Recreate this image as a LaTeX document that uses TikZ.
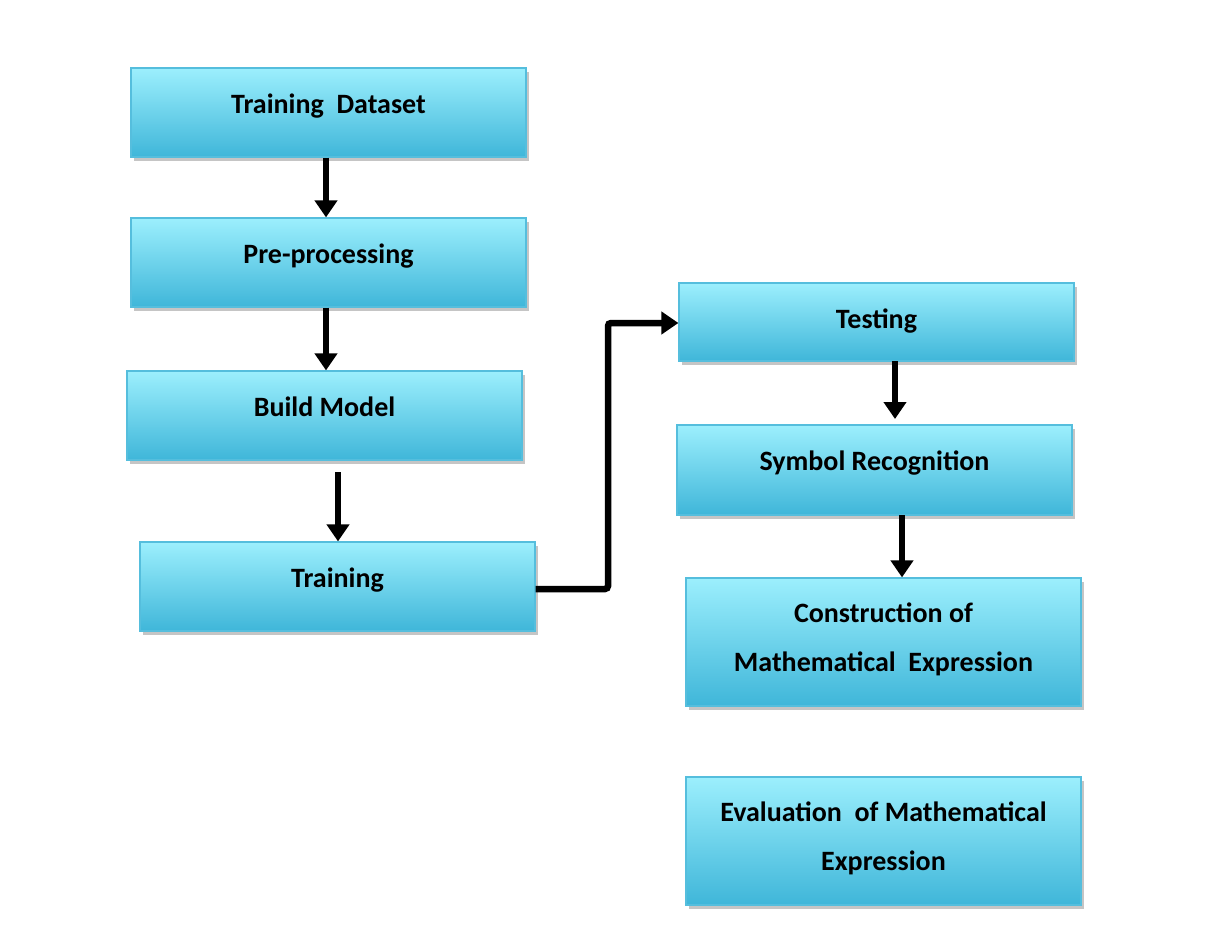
\documentclass[tikz,border=0pt]{standalone}
\usepackage{fontspec}
\setmainfont{Carlito}
\usetikzlibrary{arrows.meta,shadows,positioning}
\definecolor{boxtop}{HTML}{9CEFFD}
\definecolor{boxbot}{HTML}{3FB6D9}
\definecolor{boxline}{HTML}{55BEDD}
\tikzset{
  stepbox/.style={draw=boxline, line width=1.2pt, top color=boxtop, bottom color=boxbot,
    minimum width=395pt, inner sep=0pt, align=center, text depth=18pt,
    font=\fontsize{28}{49}\selectfont\bfseries,
    drop shadow={shadow xshift=3pt, shadow yshift=-4pt, fill=black!45, opacity=0.5}},
  flow/.style={line width=6.5pt, -{Triangle[width=22pt,length=17pt]}},
}
\begin{document}
\begin{tikzpicture}[x=1pt,y=-1pt]
\useasboundingbox (0,0) rectangle (1229,952);
\node[stepbox, minimum height=89pt] (td) at (328.5,112.5) {Training\ \ Dataset};
\node[stepbox, minimum height=89pt] (pp) at (328.5,262.5) {Pre-processing};
\node[stepbox, minimum height=89pt] (bm) at (324.5,415.5) {Build Model};
\node[stepbox, minimum height=89pt] (tr) at (337.5,586.5) {Training};
\node[stepbox, minimum height=78pt, text depth=6pt] (te) at (876.5,322) {Testing};
\node[stepbox, minimum height=90pt] (sr) at (874.5,470) {Symbol Recognition};
\node[stepbox, minimum height=128pt, text depth=10pt] (co) at (883.5,642) {Construction of\\Mathematical\ \ Expression};
\node[stepbox, minimum height=128pt, text depth=10pt] (ev) at (883.5,841) {Evaluation\ \ of Mathematical\\Expression};
\coordinate (bmout) at (338,472);
\coordinate (bend1) at (608,589);
\coordinate (bend2) at (608,323);
\draw[flow] (td.south -| 326,0) -- (pp.north -| 326,0);
\draw[flow] (pp.south -| 326,0) -- (bm.north -| 326,0);
\draw[flow] (bmout) -- (tr.north -| bmout);
\draw[flow, rounded corners=3pt] (tr.east |- bend1) -- (bend1) -- (bend2) -- (te.west |- bend2);
\draw[flow] (895,361) -- (895,419);
\draw[flow] (902,515) -- (co.north -| 902,0);
\end{tikzpicture}
\end{document}
